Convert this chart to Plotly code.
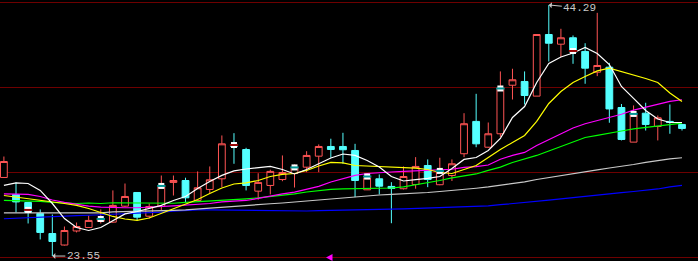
import plotly.graph_objects as go

# ---- data ----
idx = list(range(57))
opens = [30.04, 28.64, 27.97, 27.07, 25.41, 24.46, 25.62, 25.91, 26.41, 26.35,
         27.67, 28.80, 26.84, 27.64, 29.63, 29.79, 28.14, 29.05, 29.93, 32.77,
         32.35, 28.91, 29.38, 29.87, 30.37, 30.89, 31.80, 32.60, 32.60, 32.27,
         29.02, 29.93, 29.30, 29.11, 29.46, 31.03, 29.44, 30.20, 32.00, 34.67,
         32.54, 33.65, 37.66, 37.97, 36.76, 41.85, 41.05, 41.58, 40.45, 38.74,
         39.15, 35.82, 32.96, 35.35, 34.25, 34.67, 34.42]
highs = [31.77, 29.63, 28.00, 27.40, 26.98, 25.99, 26.32, 26.90, 27.40, 28.97,
         29.54, 28.82, 27.89, 30.20, 30.20, 30.02, 30.54, 30.95, 33.51, 33.70,
         32.49, 30.39, 30.68, 31.86, 31.11, 32.21, 32.77, 33.24, 33.73, 32.82,
         30.29, 30.29, 29.65, 30.95, 31.72, 31.53, 31.67, 31.53, 35.35, 36.95,
         34.58, 38.80, 39.02, 38.80, 41.85, 44.29, 42.32, 41.77, 41.13, 43.64,
         39.51, 36.11, 35.99, 36.21, 35.16, 36.07, 34.45]
lows = [30.00, 27.15, 26.24, 24.92, 23.55, 24.42, 25.50, 25.88, 26.24, 26.30,
        27.60, 26.49, 26.65, 27.31, 28.55, 27.92, 28.10, 28.74, 29.24, 31.17,
        28.97, 28.20, 28.64, 29.73, 29.21, 30.48, 30.48, 31.67, 31.17, 28.41,
        29.00, 28.64, 26.26, 29.05, 29.11, 29.24, 29.40, 29.75, 31.72, 32.54,
        32.50, 33.37, 36.48, 36.07, 36.76, 39.62, 39.98, 39.43, 37.78, 38.41,
        34.56, 33.10, 32.96, 33.92, 33.10, 33.65, 33.92]
closes = [31.36, 28.02, 27.15, 25.50, 24.75, 25.66, 25.99, 26.49, 26.57, 27.73,
          28.47, 26.76, 27.64, 29.30, 29.79, 28.36, 29.19, 29.85, 32.82, 32.60,
          29.38, 29.63, 30.54, 30.45, 30.87, 31.86, 32.60, 32.35, 32.33, 29.79,
          30.01, 29.32, 29.13, 30.12, 30.95, 29.87, 30.62, 31.17, 34.48, 32.82,
          33.65, 37.42, 38.11, 36.81, 41.85, 41.13, 41.58, 40.39, 39.07, 39.29,
          35.70, 33.18, 35.22, 34.42, 34.97, 34.58, 34.09]

ma5 = [29.38, 29.59, 29.54, 28.97, 27.89, 26.65, 25.91, 25.66, 25.91, 26.49,
       27.03, 27.23, 27.48, 27.73, 28.14, 28.47, 29.13, 29.71, 30.21, 30.58,
       30.74, 30.87, 30.95, 30.70, 30.33, 30.70, 31.20, 31.65, 31.98, 31.86,
       31.44, 30.91, 30.12, 29.75, 29.87, 29.96, 30.12, 30.78, 31.53, 31.69,
       32.27, 33.26, 35.00, 35.90, 37.89, 39.46, 39.99, 40.32, 40.78, 40.28,
       39.37, 37.56, 36.57, 35.57, 34.87, 34.58, 34.58]
ma10 = [28.55, 28.43, 28.31, 28.18, 28.02, 27.89, 27.73, 27.48, 27.15, 26.82,
        26.61, 26.49, 26.69, 27.07, 27.48, 27.85, 28.22, 28.72, 29.17, 29.50,
        29.60, 29.79, 30.12, 30.29, 30.37, 30.62, 30.99, 31.28, 31.24, 31.03,
        30.99, 30.95, 30.89, 30.84, 30.81, 30.70, 30.45, 30.37, 30.70, 31.03,
        31.69, 32.35, 32.93, 33.51, 34.67, 36.15, 37.14, 37.89, 38.38, 38.84,
        39.07, 38.80, 38.51, 38.22, 37.89, 37.02, 36.32]
ma20 = [28.68, 28.69, 28.64, 28.47, 28.18, 27.98, 27.81, 27.67, 27.59, 27.55,
        27.54, 27.54, 27.56, 27.64, 27.70, 27.76, 27.81, 27.89, 28.02, 28.10,
        28.14, 28.31, 28.51, 28.68, 28.83, 29.05, 29.30, 29.67, 29.96, 30.21,
        30.37, 30.45, 30.49, 30.54, 30.59, 30.62, 30.66, 30.72, 30.87, 30.93,
        31.07, 31.55, 31.86, 32.11, 32.68, 33.15, 33.65, 34.13, 34.48, 34.75,
        35.05, 35.26, 35.60, 35.82, 36.07, 36.32, 36.46]
ma30 = [28.14, 28.12, 28.08, 28.06, 27.98, 27.93, 27.89, 27.93, 27.89, 27.95,
        27.95, 27.95, 27.93, 27.93, 27.91, 27.98, 28.03, 28.10, 28.14, 28.22,
        28.28, 28.36, 28.47, 28.55, 28.68, 28.84, 28.97, 29.05, 29.09, 29.11,
        29.11, 29.11, 29.17, 29.26, 29.42, 29.59, 29.79, 30.00, 30.16, 30.33,
        30.62, 30.89, 31.28, 31.57, 31.86, 32.23, 32.60, 33.01, 33.34, 33.51,
        33.72, 33.88, 34.05, 34.17, 34.29, 34.42, 34.53]
ma60 = [27.12, 27.12, 27.12, 27.12, 27.12, 27.12, 27.12, 27.11, 27.12, 27.19,
        27.23, 27.25, 27.29, 27.31, 27.33, 27.36, 27.44, 27.52, 27.56, 27.64,
        27.73, 27.81, 27.87, 27.93, 28.02, 28.08, 28.16, 28.26, 28.36, 28.43,
        28.55, 28.59, 28.64, 28.68, 28.72, 28.80, 28.88, 28.95, 29.05, 29.15,
        29.26, 29.40, 29.50, 29.67, 29.87, 30.04, 30.21, 30.33, 30.49, 30.66,
        30.82, 30.95, 31.11, 31.28, 31.44, 31.57, 31.67]
ma120 = [26.63, 26.68, 26.74, 26.79, 26.82, 26.84, 26.88, 26.92, 26.96, 26.98,
         27.00, 27.04, 27.11, 27.17, 27.25, 27.34, 27.37, 27.37, 27.36, 27.34,
         27.31, 27.29, 27.26, 27.26, 27.26, 27.27, 27.30, 27.31, 27.35, 27.37,
         27.38, 27.40, 27.42, 27.45, 27.48, 27.51, 27.54, 27.57, 27.60, 27.64,
         27.70, 27.79, 27.87, 27.98, 28.08, 28.17, 28.28, 28.39, 28.51, 28.61,
         28.69, 28.78, 28.88, 28.98, 29.09, 29.27, 29.38]

flag_idx = [2, 8, 13, 19, 24, 30, 36, 41, 47, 52]
flag_price = [27.36, 26.61, 29.34, 32.72, 30.87, 30.12, 30.58, 37.39, 40.49, 35.29]
flag_kind = ["r", "c", "c", "r", "c", "c", "c", "c", "r", "c"]

high_idx, high_val = 45, 44.29
low_idx, low_val = 4, 23.55

# ---- styles ----
RED = "rgb(255,84,84)"
CYAN = "rgb(84,255,255)"
GRID = "rgb(110,0,0)"
W, H = 698, 261

fig = go.Figure()
fig.add_trace(go.Candlestick(
    x=idx, open=opens, high=highs, low=lows, close=closes,
    increasing=dict(line=dict(color=RED, width=1), fillcolor="black"),
    decreasing=dict(line=dict(color=CYAN, width=1), fillcolor=CYAN),
    whiskerwidth=0, hoverinfo="skip"))

for vals, col in [(ma120, "rgb(0,0,255)"), (ma60, "rgb(200,200,200)"),
                  (ma30, "rgb(0,255,0)"), (ma20, "rgb(255,0,255)"),
                  (ma10, "rgb(255,255,0)"), (ma5, "rgb(255,255,255)")]:
    fig.add_trace(go.Scatter(x=idx, y=vals, mode="lines",
                             line=dict(color=col, width=1.2), hoverinfo="skip"))

band_col = ["rgb(150,0,0)" if k == "r" else "rgb(0,150,150)" for k in flag_kind]
fig.add_trace(go.Scatter(x=flag_idx, y=flag_price, mode="markers",
                         marker=dict(symbol="square", size=6, color="white",
                                     line=dict(width=0)), hoverinfo="skip"))
fig.add_trace(go.Scatter(x=flag_idx, y=flag_price, mode="markers",
                         marker=dict(symbol="line-ew", size=6,
                                     line=dict(width=2, color=band_col)),
                         hoverinfo="skip"))

shapes = []
for row in [2.5, 87.5, 172.5, 257.5]:
    shapes.append(dict(type="line", xref="paper", yref="paper", x0=0, x1=1,
                       y0=1 - row / H, y1=1 - row / H, layer="below",
                       line=dict(color=GRID, width=1)))
# small magenta scroll marker at the bottom
px = lambda v: v / W
py = lambda v: 1 - v / H
shapes.append(dict(type="path", xref="paper", yref="paper",
                   path=f"M {px(326)} {py(257.5)} L {px(332.5)} {py(254)} L {px(332.5)} {py(261)} Z",
                   fillcolor="rgb(255,0,255)", line=dict(width=0)))

ann_font = dict(family="Liberation Mono", size=11, color="rgb(200,200,200)")
annotations = [
    dict(x=high_idx, y=high_val, xref="x", yref="y", text=f"{high_val:.2f}",
         showarrow=True, arrowhead=1, arrowsize=1, arrowwidth=1,
         arrowcolor="rgb(200,200,200)", ax=31, ay=3, font=ann_font),
    dict(x=low_idx, y=low_val, xref="x", yref="y", text=f"{low_val:.2f}",
         showarrow=True, arrowhead=1, arrowsize=1, arrowwidth=1,
         arrowcolor="rgb(200,200,200)", ax=31, ay=0, font=ann_font),
]

fig.update_layout(
    width=W, height=H, margin=dict(l=0, r=0, t=0, b=0, pad=0),
    paper_bgcolor="black", plot_bgcolor="black", showlegend=False,
    boxgap=0.2, shapes=shapes, annotations=annotations,
    xaxis=dict(range=[-0.322, 57.321], visible=False, fixedrange=True,
               rangeslider=dict(visible=False)),
    yaxis=dict(range=[23.14, 44.70], visible=False, fixedrange=True),
)

fig.write_html("out.html")
